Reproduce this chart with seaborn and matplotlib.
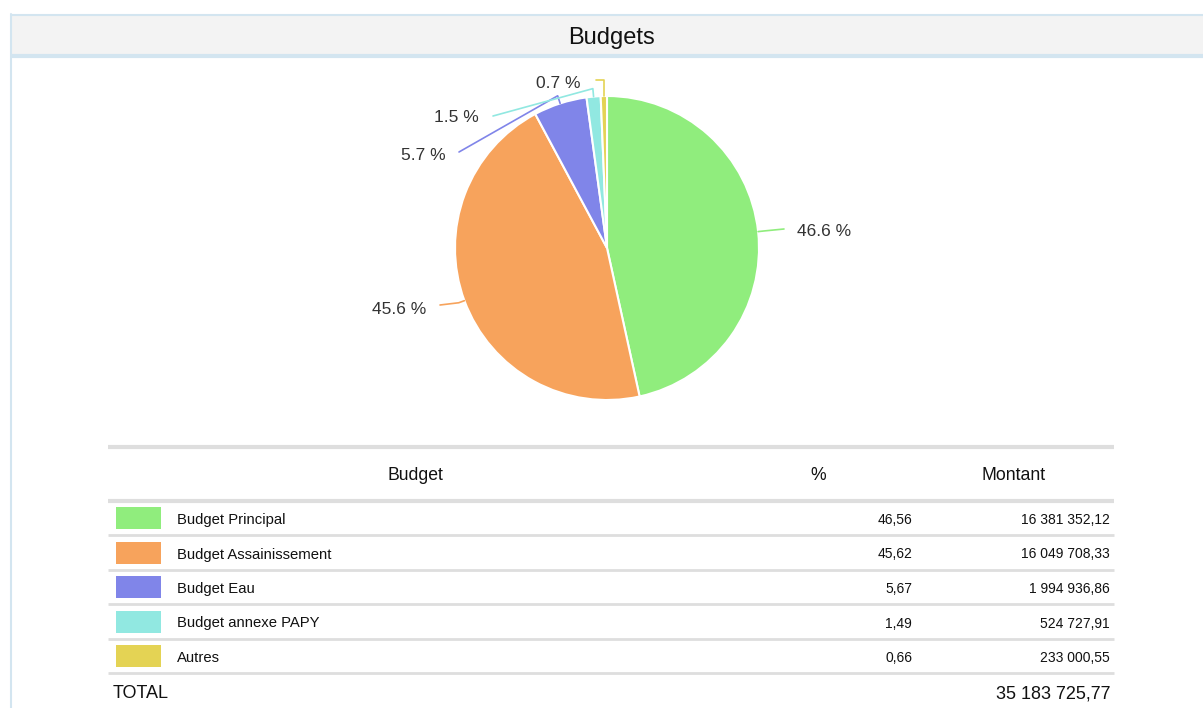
import numpy as np
import matplotlib
matplotlib.use("Agg")
import matplotlib.pyplot as plt
import seaborn as sns
from matplotlib.patches import Rectangle

# ---------------- data ----------------
budgets = ["Budget Principal", "Budget Assainissement", "Budget Eau",
           "Budget annexe PAPY", "Autres"]
montants = [16381352.12, 16049708.33, 1994936.86, 524727.91, 233000.55]
pcts = [46.56, 45.62, 5.67, 1.49, 0.66]
colors = ["#90ed7d", "#f7a35c", "#8085e9", "#91e8e1", "#e4d354"]
title = "Budgets"
col_headers = ["Budget", "%", "Montant"]

sns.set_style("white")
plt.rcParams["font.family"] = ["Liberation Sans", "DejaVu Sans"]
palette = sns.color_palette(colors)

W, H = 1203, 708
fig = plt.figure(figsize=(W / 100, H / 100), dpi=100)
fig.patch.set_facecolor("white")

# overlay axes in pixel coordinates
ov = fig.add_axes([0, 0, 1, 1])
ov.set_xlim(0, W)
ov.set_ylim(H, 0)
ov.axis("off")
ov.set_zorder(2)

# ---- title bar ----
border = "#d3e5f0"
ov.add_patch(Rectangle((10, 14), W - 10, 42, facecolor="#f3f3f3", edgecolor="none", zorder=1))
ov.plot([10, W], [15, 15], color=border, lw=1.5, solid_capstyle="butt", zorder=2)
ov.plot([10, W], [56, 56], color=border, lw=3, solid_capstyle="butt", zorder=2)
ov.plot([10.5, 10.5], [14, H], color=border, lw=1.5, zorder=2)
ov.text(611, 38, title, ha="center", va="center", fontsize=17, color="#111111", zorder=3)

# ---- pie ----
cx, cy, R = 607, 248, 152
pax = fig.add_axes([(cx - R) / W, (H - cy - R) / H, 2 * R / W, 2 * R / H])
pax.set_zorder(1)
wedges, _ = pax.pie(montants, colors=palette, startangle=90, counterclock=False,
                    radius=1.0, wedgeprops=dict(edgecolor="white", linewidth=1.5))
pax.set_xlim(-1, 1)
pax.set_ylim(-1, 1)
pax.set_aspect("equal")
pax.axis("off")

# label layout (pixel anchor of connector end, text anchor, alignment)
label_layout = [
    ((784, 229), (797, 231), "left"),
    ((440, 305), (426, 309), "right"),
    ((459, 152), (446, 156), "right"),
    ((493, 116), (479, 118), "right"),
    ((596, 80), (581, 83), "right"),
]
elbow = [6, 6, 8, 8, 16]
for w, p, col, (end, tpos, ha), el in zip(wedges, pcts, colors, label_layout, elbow):
    mid = np.deg2rad((w.theta1 + w.theta2) / 2)
    ex, ey = cx + R * np.cos(mid), cy - R * np.sin(mid)
    bx, by = cx + (R + el) * np.cos(mid), cy - (R + el) * np.sin(mid)
    if el > 12:
        by = end[1]
        bx = ex
    ov.plot([ex, bx, end[0]], [ey, by, end[1]], color=col, lw=1.2, zorder=3)
    ov.text(tpos[0], tpos[1], f"{p:.1f} %", ha=ha, va="center", fontsize=12.5,
            color="#333333", zorder=4)

# ---- table ----
tx0, tx1 = 108, 1114
grid = "#dedede"
ov.plot([tx0, tx1], [447, 447], color=grid, lw=3, solid_capstyle="butt")
ov.plot([tx0, tx1], [501, 501], color=grid, lw=3, solid_capstyle="butt")
ov.text(415, 475, col_headers[0], ha="center", va="center", fontsize=12.7, color="#111111")
ov.text(818, 475, col_headers[1], ha="center", va="center", fontsize=12.7, color="#111111")
ov.text(1014, 475, col_headers[2], ha="center", va="center", fontsize=12.7, color="#111111")


def fr_num(v):
    s = f"{v:,.2f}"
    return s.replace(",", " ").replace(".", ",")


row_h = 34.5
y0 = 518
for i, (name, p, m, col) in enumerate(zip(budgets, pcts, montants, palette)):
    y = y0 + i * row_h
    ov.add_patch(Rectangle((116, y - 11), 45, 22, facecolor=col, edgecolor="none"))
    ov.text(177, y + 2, name, ha="left", va="center", fontsize=10.7, color="#111111")
    ov.text(912, y + 2, f"{p:.2f}".replace(".", ","), ha="right", va="center",
            fontsize=10, color="#111111")
    ov.text(1110, y + 2, fr_num(m), ha="right", va="center", fontsize=10, color="#111111")
    ov.plot([tx0, tx1], [y + 17, y + 17], color=grid, lw=2, solid_capstyle="butt")

ov.text(113, 694, "TOTAL", ha="left", va="center", fontsize=13, color="#111111")
ov.text(1110, 694, fr_num(sum(montants)), ha="right", va="center", fontsize=13, color="#111111")

fig.savefig("out.png", dpi=100, facecolor="white")
